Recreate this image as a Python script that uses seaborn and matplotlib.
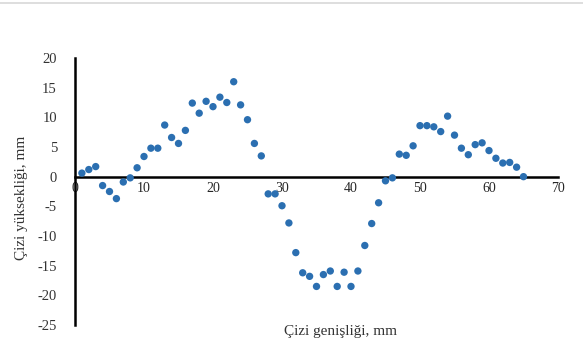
import numpy as np
import pandas as pd
import matplotlib
matplotlib.use("Agg")
import matplotlib.pyplot as plt
import seaborn as sns
from matplotlib.lines import Line2D

width_mm = list(range(1, 66))
height_mm = [0.6, 1.2, 1.7, -1.5, -2.5, -3.7, -0.9, -0.2, 1.5, 3.4,
             4.8, 4.8, 8.7, 6.6, 5.6, 7.8, 12.4, 10.7, 12.7, 11.8,
             13.4, 12.5, 16.0, 12.1, 9.6, 5.6, 3.5, -2.9, -2.9, -4.9,
             -7.8, -12.8, -16.2, -16.8, -18.5, -16.5, -15.9, -18.5, -16.1, -18.5,
             -15.9, -11.6, -7.9, -4.4, -0.7, -0.2, 3.8, 3.6, 5.2, 8.6,
             8.6, 8.4, 7.6, 10.2, 7.0, 4.8, 3.7, 5.4, 5.7, 4.4,
             3.1, 2.3, 2.4, 1.6, 0.0]
x_ticks = [0, 10, 20, 30, 40, 50, 60, 70]
y_ticks = [20, 15, 10, 5, 0, -5, -10, -15, -20, -25]
x_label = "Çizi genişliği, mm"
y_label = "Çizi yüksekliği, mm"

sns.set_style("white")
plt.rcParams['font.family'] = ['Liberation Serif', 'DejaVu Serif']

W, H = 583, 338
fig = plt.figure(figsize=(W / 100, H / 100), dpi=100)
ax = fig.add_axes([75 / W, 1 - 325 / H, (558 - 75) / W, (325 - 58) / H])

df = pd.DataFrame({"x": width_mm, "y": height_mm})
sns.scatterplot(data=df, x="x", y="y", ax=ax, color="#2B6FB1", s=28,
                edgecolor="none", zorder=3)

ax.set_xlim(0, 70)
ax.set_ylim(-25, 20)
ax.set_xticks(x_ticks)
ax.set_yticks(y_ticks)
ax.set_xticklabels([str(v) for v in x_ticks], fontsize=10.5, color="#333333")
ax.set_yticklabels([str(v) for v in y_ticks], fontsize=10.5, color="#333333")
ax.tick_params(axis="x", length=0, pad=4)
ax.tick_params(axis="y", length=0, pad=13)
ax.set_xlabel("")
ax.set_ylabel("")

for s in ["top", "right"]:
    ax.spines[s].set_visible(False)
ax.spines["bottom"].set_position(("data", 0))
ax.spines["bottom"].set_color("black")
ax.spines["bottom"].set_linewidth(1.8)
ax.spines["left"].set_color("black")
ax.spines["left"].set_linewidth(1.8)

fig.text(341 / W, 1 - 331 / H, x_label, ha="center", va="center",
         fontsize=11, color="#333333")
fig.text(22 / W, 1 - 198 / H, y_label, ha="center", va="center",
         rotation=90, fontsize=11, color="#333333")

fig.add_artist(Line2D([0, 1], [1 - 3 / H, 1 - 3 / H], transform=fig.transFigure,
                      color="#d8d8d8", linewidth=1.2))

fig.savefig("out.png", dpi=100)
